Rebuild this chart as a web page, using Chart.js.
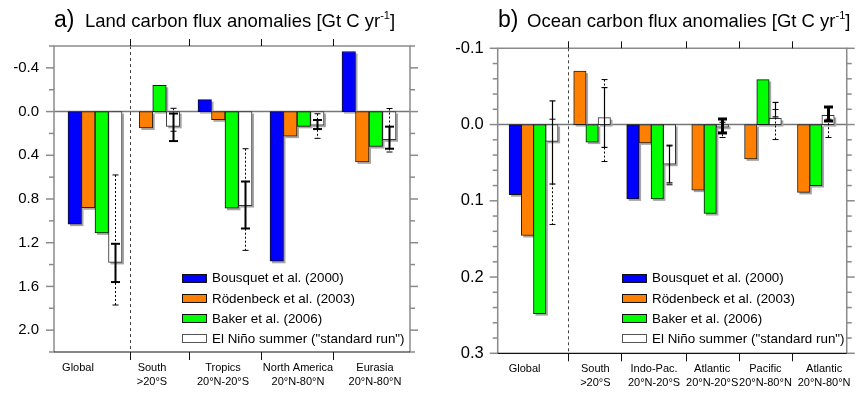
<!DOCTYPE html>
<html>
<head>
<meta charset="utf-8">
<script src="https://cdn.jsdelivr.net/npm/chart.js@4.4.1/dist/chart.umd.min.js"></script>
<style>
  body { margin: 0; background: #fff; font-family: "Liberation Sans", Arial, Helvetica, sans-serif; }
  #wrap { position: relative; width: 860px; height: 393px; overflow: hidden; }
  .panel { position: absolute; top: 0; width: 430px; height: 393px; }
  .ttl { position: absolute; white-space: nowrap; line-height: 1; color: #000; }
  .ttl sup { font-size: 11px; position: relative; top: -1px; }
  .lg { position: absolute; font-size: 13.4px; line-height: 1; color: #000; }
  .lg div { height: 20.2px; display: flex; align-items: center; white-space: nowrap; }
  .lg .sw { display: inline-block; width: 23px; height: 7px; border: 1px solid #111; margin-right: 5px; }
</style>
</head>
<body>
<div id="wrap">
  <div class="panel" style="left:0"><canvas id="land"></canvas></div>
  <div class="panel" style="left:430px"><canvas id="ocean"></canvas></div>

  <div class="ttl" style="left:54px;top:7.5px;font-size:23px">a)</div>
  <div class="ttl" style="left:85px;top:11.3px;font-size:18.5px">Land carbon flux anomalies [Gt C yr<sup>-1</sup>]</div>
  <div class="ttl" style="left:498px;top:7.5px;font-size:23px">b)</div>
  <div class="ttl" style="left:527px;top:11.3px;font-size:18.5px">Ocean carbon flux anomalies [Gt C yr<sup>-1</sup>]</div>

  <div class="lg" id="lgLand" style="left:182px;top:268px"></div>
  <div class="lg" id="lgOcean" style="left:622px;top:268px"></div>
</div>

<script>
// ---- data ----
const seriesNames = ['Bousquet et al. (2000)', 'Rödenbeck et al. (2003)', 'Baker et al. (2006)', 'El Niño summer ("standard run")'];

const landCategories = [['Global'], ['South', '>20°S'], ['Tropics', '20°N-20°S'], ['North America', '20°N-80°N'], ['Eurasia', '20°N-80°N']];
const landBousquet   = [1.03, null, -0.11, 1.37, -0.55];
const landRoedenbeck = [0.88, 0.15, 0.075, 0.225, 0.46];
const landBaker      = [1.11, -0.24, 0.885, 0.135, 0.32];
const landElNino     = [1.38, 0.135, 0.86, 0.125, 0.258];
const landSolidLo    = [1.21, 0.018, 0.64, 0.077, 0.138];
const landSolidHi    = [1.56, 0.27, 1.07, 0.16, 0.34];
const landDotLo      = [0.58, -0.03, 0.34, 0.02, -0.028];
const landDotHi      = [1.77, 0.18, 1.27, 0.245, 0.37];

const oceanCategories = [['Global'], ['South', '>20°S'], ['Indo-Pac.', '20°N-20°S'], ['Atlantic', '20°N-20°S'], ['Pacific', '20°N-80°N'], ['Atlantic', '20°N-80°N']];
const oceanBousquet   = [0.092, null, 0.0975, null, null, null];
const oceanRoedenbeck = [0.1455, -0.070, 0.024, 0.086, 0.045, 0.089];
const oceanBaker      = [0.248, 0.023, 0.0975, 0.1167, -0.059, 0.080];
const oceanElNino     = [0.022, -0.009, 0.052, 0.0035, -0.008, -0.012];
const oceanSolidLo    = [-0.031, -0.0485, 0.028, -0.0073, -0.029, -0.023];
const oceanSolidHi    = [0.078, 0.030, 0.0765, 0.011, -0.010, -0.0047];
const oceanDotLo      = [-0.007, -0.059, 0.027, -0.003, -0.0197, -0.007];
const oceanDotHi      = [0.131, 0.0485, 0.079, 0.017, 0.0197, 0.017];

// ---- layout / style ----
const fills   = ['#0000ff', '#ff8000', '#00ff00', '#ffffff'];
const borders = ['#111', '#222', '#111', '#333'];

const landLayout = {
  groupX: [41, 105.5, 171, 243, 315], labelX: [24, 98, 169, 244, 321],
  dividers: [76, 135, 207, 279], xMax: 356, barW: 13.5,
  yMin: -0.6, yMax: 2.2, step: 0.2, labelStep: 0.4, yFont: 15, yPad: 15,
  yWidth: 54, xHeight: 41, top: 46, right: 20, solidWidth: [2, 2, 2, 2, 2]
};
const oceanLayout = {
  groupX: [36.5, 96, 156.1, 216.1, 269.8, 323.6], labelX: [27.3, 99.3, 159, 218.1, 272.3, 332],
  dividers: [71.6, 125, 191.6, 245, 299], xMax: 355, barW: 12.4,
  yMin: -0.1, yMax: 0.3, step: 0.02, labelStep: 0.1, yFont: 16.5, yPad: 14,
  yWidth: 67.7, xHeight: 39.7, top: 48.3, right: 7.3, solidWidth: [1.2, 1.2, 1.2, 3, 1.2, 3]
};

Chart.defaults.color = '#000';
Chart.defaults.font.family = '"Liberation Sans", Arial, Helvetica, sans-serif';

const isMultiple = (v, s) => Math.abs(v / s - Math.round(v / s)) < 1e-6;

const line = (ctx, x1, y1, x2, y2) => {
  ctx.beginPath(); ctx.moveTo(x1, y1); ctx.lineTo(x2, y2); ctx.stroke();
};

const makeChart = (id, cats, series, err, L) => {
  // slot of each bar inside its group (groups without Bousquet have 3 bars)
  const slotX = (s, g) => {
    const present = series.map(a => a[g] !== null);
    const n = present.filter(Boolean).length;
    const slot = present.slice(0, s).filter(Boolean).length;
    return L.groupX[g] + (slot - (n - 1) / 2) * L.barW;
  };

  const datasets = series.map((vals, s) => ({
    label: seriesNames[s],
    data: vals.map((v, g) => v === null ? null : {x: slotX(s, g), y: v}).filter(p => p !== null),
    backgroundColor: fills[s],
    borderColor: borders[s],
    borderWidth: 1,
    borderSkipped: false,
    barThickness: L.barW,
    grouped: false
  }));

  const deco = {
    id: 'deco',
    beforeDatasetsDraw(chart) {
      const {ctx, chartArea: {left, right, top, bottom}, scales: {x, y}} = chart;
      ctx.save();
      // zero line
      ctx.strokeStyle = '#777'; ctx.lineWidth = 1.5;
      line(ctx, left, y.getPixelForValue(0), right, y.getPixelForValue(0));
      // dashed divider after "Global"
      ctx.strokeStyle = '#444'; ctx.lineWidth = 1; ctx.setLineDash([3, 3]);
      const dx = Math.round(x.getPixelForValue(L.dividers[0])) + 0.5;
      line(ctx, dx, top, dx, bottom);
      ctx.setLineDash([]);
      // grey drop shadows
      ctx.fillStyle = '#a6a6a6';
      chart.data.datasets.forEach((ds, i) => {
        chart.getDatasetMeta(i).data.forEach(el => {
          const p = el.getProps(['x', 'y', 'base', 'width'], true);
          ctx.fillRect(p.x - p.width / 2 + 2, Math.min(p.y, p.base) + 2, p.width, Math.abs(p.base - p.y));
        });
      });
      ctx.restore();
    },
    afterDatasetsDraw(chart) {
      const {ctx, scales: {x, y}} = chart;
      ctx.save();
      ctx.strokeStyle = '#000';
      err.dotLo.forEach((_, g) => {
        const px = Math.round(x.getPixelForValue(slotX(3, g))) + 0.5;
        // dotted range
        const d1 = y.getPixelForValue(err.dotLo[g]), d2 = y.getPixelForValue(err.dotHi[g]);
        ctx.lineWidth = 1; ctx.setLineDash([2, 2]);
        line(ctx, px, d1, px, d2);
        ctx.setLineDash([]);
        line(ctx, px - 3, d1, px + 3, d1);
        line(ctx, px - 3, d2, px + 3, d2);
        // solid range
        const s1 = y.getPixelForValue(err.solidLo[g]), s2 = y.getPixelForValue(err.solidHi[g]);
        const w = L.solidWidth[g], c = w > 1.5 ? 4.5 : 3;
        ctx.lineWidth = w;
        line(ctx, px, s1, px, s2);
        line(ctx, px - c, s1, px + c, s1);
        line(ctx, px - c, s2, px + c, s2);
      });
      ctx.restore();
    },
    afterDraw(chart) {
      const {ctx, chartArea: {left, right, top, bottom}, scales: {x, y}} = chart;
      ctx.save();
      ctx.strokeStyle = '#8a8a8a'; ctx.lineWidth = 1.5;
      ctx.beginPath();
      ctx.moveTo(left, bottom); ctx.lineTo(left, top); ctx.lineTo(right, top); ctx.lineTo(right, bottom);
      ctx.stroke();
      y.ticks.forEach(t => {
        const py = y.getPixelForValue(t.value);
        const len = isMultiple(t.value, L.labelStep) ? 8 : 5;
        line(ctx, left - len, py, left, py);
        line(ctx, right, py, right + len, py);
      });
      ctx.strokeStyle = '#111'; ctx.lineWidth = 1.2;
      line(ctx, left, bottom, right, bottom);
      ctx.lineWidth = 1;
      L.dividers.forEach(d => {
        const px = Math.round(x.getPixelForValue(d)) + 0.5;
        line(ctx, px, top - 7, px, top);
        line(ctx, px, bottom, px, bottom + 8);
      });
      ctx.restore();
    }
  };

  return new Chart(document.getElementById(id), {
    type: 'bar',
    data: {datasets},
    options: {
      responsive: true,
      maintainAspectRatio: false,
      animation: false,
      layout: {padding: {top: L.top, right: L.right, left: 0, bottom: 0}},
      plugins: {legend: {display: false}, tooltip: {enabled: false}},
      scales: {
        x: {
          type: 'linear', min: 0, max: L.xMax, offset: false,
          afterBuildTicks: s => { s.ticks = L.labelX.map(v => ({value: v})); },
          afterFit: s => { s.height = L.xHeight; },
          ticks: {
            callback: (v, i) => cats[i], autoSkip: false, maxRotation: 0, minRotation: 0,
            font: {size: 11, lineHeight: 1.25}, padding: 9, color: '#000'
          },
          grid: {display: false, drawTicks: false},
          border: {display: false}
        },
        y: {
          type: 'linear', reverse: true, min: L.yMin, max: L.yMax,
          afterFit: s => { s.width = L.yWidth; },
          ticks: {
            stepSize: L.step, maxTicksLimit: 100, autoSkip: false,
            callback: v => isMultiple(v, L.labelStep) ? Number(v).toFixed(1) : '',
            font: {size: L.yFont}, padding: L.yPad, color: '#000'
          },
          grid: {display: false, drawTicks: false},
          border: {display: false}
        }
      }
    },
    plugins: [deco]
  });
};

makeChart('land', landCategories,
  [landBousquet, landRoedenbeck, landBaker, landElNino],
  {solidLo: landSolidLo, solidHi: landSolidHi, dotLo: landDotLo, dotHi: landDotHi},
  landLayout);

makeChart('ocean', oceanCategories,
  [oceanBousquet, oceanRoedenbeck, oceanBaker, oceanElNino],
  {solidLo: oceanSolidLo, solidHi: oceanSolidHi, dotLo: oceanDotLo, dotHi: oceanDotHi},
  oceanLayout);

// html legends
['lgLand', 'lgOcean'].forEach(id => {
  document.getElementById(id).innerHTML = seriesNames.map((n, s) =>
    '<div><span class="sw" style="background:' + fills[s] + ';border-color:' + (s === 3 ? '#555' : '#111') + '"></span>' + n + '</div>'
  ).join('');
});
</script>
</body>
</html>
